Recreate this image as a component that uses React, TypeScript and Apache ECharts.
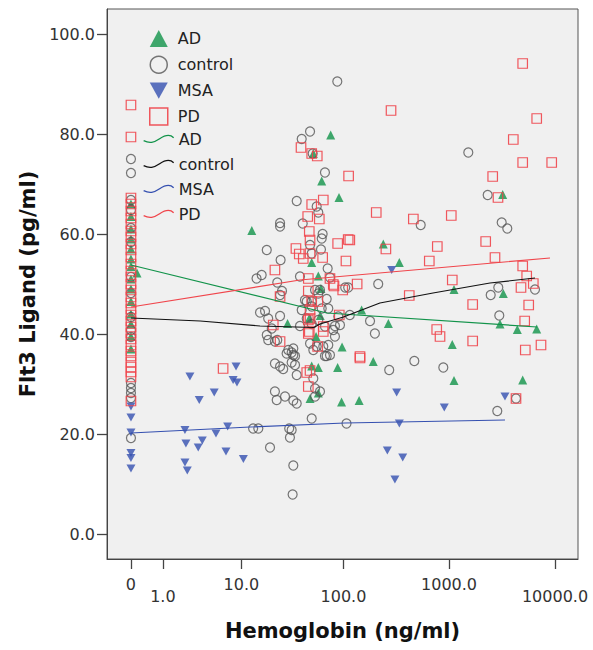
import React, { useEffect, useRef } from 'react';
import * as echarts from 'echarts';

// ---- axis ticks ----
const xTickValues = [0, 1, 10, 100, 1000, 10000];
const xTickLabels = ['0', '1.0', '10.0', '100.0', '1000.0', '10000.0'];
const yTickValues = [0, 20, 40, 60, 80, 100];
const X_MIN = -0.226; // log10(hb+1) units
const X_MAX = 4.217;
const Y_MIN = -5;
const Y_MAX = 105;

// ---- data: [hemoglobin ng/ml, Flt3 ligand pg/ml] ----
const adData = [
  [0, 66], [0, 63.5], [0, 61], [0, 59], [0, 57], [0, 55], [0, 53.5], [0, 51], [0, 49], [0, 46.5], [0, 44], [0, 42], [0, 39.5], [0, 37],
  [0.14, 52.2], [12.8, 60.7], [29, 42.1], [49.7, 54.3], [57.5, 51.6], [61, 49.1], [47, 43.1], [60, 43.7], [54.7, 39.5],
  [97, 37.4], [96, 26.4], [141, 26.7], [149, 44.8], [239, 58], [267, 42.1], [192, 34.5], [75.6, 79.8], [51.5, 76.1],
  [62, 70.6], [90.7, 67.3], [339, 54.3], [1114, 48.9], [3252, 48.1], [3027, 42], [4408, 40.9], [6720, 41], [1073, 37.9],
  [88, 33.3], [49.7, 33.6], [57.5, 33.3], [1114, 30.7], [4957, 30.8], [57.5, 28.2], [47.9, 27.1], [3210, 67.9],
];

const controlData = [
  [0, 75], [0, 72.2], [0, 66.8], [0, 64.8], [0, 61.2], [0, 58.4], [0, 51.4], [0, 48.2], [0, 43.4], [0, 40.8], [0, 39.4],
  [0, 30.2], [0, 29.2], [0, 28.2], [0, 27.2], [0, 19.2],
  [87.4, 90.5], [47.9, 80.5], [39.8, 79], [50.8, 76.1], [66.6, 72.3], [35.6, 66.6], [55.5, 65.5], [57.5, 64.3],
  [24.5, 62.2], [24.5, 61.5], [40.7, 62.1], [63.3, 60], [62, 59.1], [47.9, 57.8], [18.1, 56.8], [24.8, 54.8],
  [49.7, 56.1], [61, 56.9], [14.3, 51.1], [16.1, 51.8], [38.3, 51.5], [23, 50.3], [70.7, 53.1], [74.4, 51.3],
  [111, 49.3], [104, 49.3], [214, 50], [24.5, 47.8], [25.6, 48.6], [53.5, 48.8], [57.5, 48.1], [59.7, 48.8],
  [44.5, 46.5], [49.7, 46.5], [69.2, 47], [71.7, 45.1], [42.8, 46.8], [39.8, 44.8], [49.7, 45.5], [62, 45.1],
  [15.5, 44.3], [17.4, 44.6], [24.5, 43.6], [18.7, 43.1], [44.5, 43.1], [49.7, 42], [57.5, 42.8], [89.3, 43.5],
  [92.7, 41.8], [115, 43.8], [179, 42.6], [199, 40.1], [18.7, 38.8], [21.8, 38.5], [23, 38.8], [20.3, 41.1],
  [18.1, 39.8], [38.3, 41.6], [66.6, 41.5], [80, 40.8], [83, 39.5], [83, 41.6], [29.5, 36.8], [33, 37.1],
  [28.4, 36.1], [33, 35.8], [47.9, 38.1], [51.5, 36.8], [71.7, 37.8], [74.4, 35.8], [66.6, 35.6], [55.5, 37.5],
  [64.2, 37.5], [21.8, 34.1], [24.5, 33.5], [26.3, 33], [31.8, 34.3], [34.3, 33.8], [35.6, 31.8], [31.8, 36.3],
  [34.3, 35.6], [51.5, 31.1], [53.5, 29.1], [69.2, 35.6], [21.8, 28.5], [22.7, 26.8], [27.4, 27.5], [33, 26.7],
  [35.6, 26.1], [53.5, 27.5], [59.7, 28.5], [49.7, 23.1], [107, 22.1], [30.1, 21.1], [31.8, 20.8], [30.6, 19.3],
  [13.2, 21.1], [14.9, 21.1], [19.5, 17.3], [33, 13.7], [32.5, 7.9], [272, 32.8], [470, 34.6], [883, 33.3],
  [2854, 24.6], [2473, 47.8], [2917, 49.3], [6476, 48.9], [2981, 43.7], [4286, 27.1], [1520, 76.3], [2316, 67.8],
  [3141, 62.3], [3547, 61.1], [540, 61.8],
];

const msaData = [
  [0, 25.5], [0, 23.3], [0, 20.3], [0, 16.2], [0, 15.2], [0, 13.1],
  [2.23, 20.8], [2.3, 18.1], [2.23, 14.3], [2.4, 12.7], [2.6, 31.5], [3.41, 26.8], [5.1, 28.3], [8.8, 33.5],
  [8.2, 30.8], [9.0, 30.3], [5.34, 20.1], [7.17, 21.5], [3.71, 18.7], [3.31, 17.3], [6.88, 16.5], [10.5, 15],
  [287, 52.8], [320, 28.3], [902, 25.3], [339, 22.1], [261, 16.7], [365, 15.3], [308, 10.9], [3374, 27.5],
];

const pdData = [
  [0, 85.8], [0, 79.4], [0, 67.2], [0, 66], [0, 64.6], [0, 63.2], [0, 62], [0, 60.6], [0, 59.4], [0, 58], [0, 56.8],
  [0, 55.4], [0, 54], [0, 52.6], [0, 51.4], [0, 50], [0, 48.8], [0, 47.4], [0, 46.2], [0, 45], [0, 43.8], [0, 42.6],
  [0, 41.4], [0, 40.2], [0, 39], [0, 37.8], [0, 36.6], [0, 35.6], [0, 34.4], [0, 33.4], [0, 32.4], [0, 31.4], [0, 26.6],
  [6.4, 33.1], [21.8, 52.8], [24.5, 47.5], [21, 41.8], [24.5, 38.5], [44.5, 32.3], [47.9, 32.7], [46.1, 29.5],
  [39.2, 77.3], [49.7, 76.1], [56.2, 75.6], [112, 71.6], [64.2, 66.8], [49.7, 65.9], [45.5, 63.5], [58.8, 63],
  [205, 64.3], [283, 84.7], [4957, 94.1], [6720, 83.1], [4042, 78.9], [4957, 74.3], [9309, 74.3], [2583, 71.5],
  [2898, 67.3], [1050, 63.7], [460, 63], [2218, 58.5], [775, 57.5], [88.1, 58.1], [111, 58.9], [115, 58.8],
  [47.1, 60.5], [47.9, 58.8], [35, 57.1], [37.7, 56], [41.2, 55.1], [63.3, 55.3], [105.7, 54.6], [253, 57],
  [2715, 55.3], [4957, 53.6], [5407, 51.6], [4777, 49.3], [6241, 50.1], [651, 54.6], [1073, 50.8], [421, 47.7],
  [1672, 45.9], [5648, 45.8], [5177, 42.6], [765, 40.9], [822, 39.5], [1672, 38.6], [5245, 36.8], [7378, 37.8],
  [143.7, 35.5], [143.7, 35.2], [4286, 27.1], [135, 50], [98.4, 48.8], [80, 49.9], [74.4, 51.1], [46.1, 51.1],
  [81.3, 49.6], [46.1, 48.6], [57, 46.5], [49.7, 46.5], [47.9, 44.9], [47.9, 43.1], [91.3, 43.8], [46.1, 40.1],
  [64.2, 41.5], [64.2, 40.5], [56.7, 37.5], [47.9, 56.1], [46.1, 42.8], [47.1, 40.5],
];

// ---- fit lines ----
const adFit = [[0, 53.8], [69.6, 44.2], [6760, 41.4]];
const controlFit = [[0, 43.2], [3.5, 42.6], [15.5, 41.6], [52, 41.3], [59.7, 42.0], [100, 43.4], [222, 46.2], [706, 48.2], [2437, 50.2], [6476, 51.2]];
const msaFit = [[0, 20.2], [12.3, 21.4], [103, 22.2], [3374, 22.8]];
const pdFit = [[0, 45.4], [38.3, 50.8], [8970, 55.2]];

const C_AD = '#12934a';
const C_CTRL = '#555555';
const C_MSA = '#3550b0';
const C_PD = '#f0454b';
const C_FIT_CTRL = '#111111';
const FONT = 'DejaVu Sans';
const WAVE = 'path://M0,7 C6,10 10,9 16,5 C22,1 27,1 30,4';
const DOWN_TRI = 'path://M0,0 L10,0 L5,9 Z';

const tx = (v: number) => Math.log10(v + 1);
const toPts = (arr: number[][]) => arr.map(([h, f]) => [tx(h), f]);
const labelFor = (val: number) => {
  const i = xTickValues.findIndex((v) => Math.abs(tx(v) - val) < 1e-9);
  return i >= 0 ? xTickLabels[i] : '';
};

export default function App() {
  const ref = useRef<HTMLDivElement>(null);
  useEffect(() => {
    document.body.style.margin = '0';
    if (!ref.current) return;
    const chart = echarts.init(ref.current, undefined, { renderer: 'svg' });
    const labelStyle = { fontSize: 16, color: '#333', fontFamily: FONT };
    const lineSeries = (name: string, data: number[][], color: string) => ({
      name,
      type: 'line',
      data: toPts(data),
      showSymbol: false,
      symbol: 'none',
      lineStyle: { color, width: 1.2 },
      itemStyle: { color },
      z: 3,
    });
    chart.setOption({
      animation: false,
      textStyle: { fontFamily: FONT },
      grid: { left: 107, right: 15, top: 9, bottom: 91, show: true, backgroundColor: '#f0f0f0', borderColor: '#555', borderWidth: 1 },
      xAxis: [
        {
          type: 'value', min: X_MIN, max: X_MAX, position: 'bottom',
          axisLine: { show: true, onZero: false, lineStyle: { color: '#444' } },
          axisTick: { show: true, length: 10, customValues: xTickValues.map(tx), lineStyle: { color: '#444', width: 1.3 } },
          axisLabel: { customValues: [0, 2, 4].map((i) => tx(xTickValues[i])), formatter: labelFor, margin: 17, ...labelStyle },
          splitLine: { show: false },
          name: 'Hemoglobin (ng/ml)', nameLocation: 'middle', nameGap: 61,
          nameTextStyle: { fontSize: 21, fontWeight: 'bold', color: '#111', fontFamily: FONT },
        },
        {
          type: 'value', min: X_MIN, max: X_MAX, position: 'bottom',
          axisLine: { show: false, onZero: false },
          axisTick: { show: false },
          axisLabel: { customValues: [1, 3, 5].map((i) => tx(xTickValues[i])), formatter: labelFor, margin: 29, ...labelStyle },
          splitLine: { show: false },
        },
      ],
      yAxis: {
        type: 'value', min: Y_MIN, max: Y_MAX,
        axisLine: { show: true, onZero: false, lineStyle: { color: '#444' } },
        axisTick: { show: true, length: 10, customValues: yTickValues, lineStyle: { color: '#444', width: 1.3 } },
        axisLabel: { customValues: yTickValues, formatter: (v: number) => v.toFixed(1), margin: 12, ...labelStyle },
        splitLine: { show: false },
        name: 'Flt3 Ligand (pg/ml)', nameLocation: 'middle', nameGap: 64,
        nameTextStyle: { fontSize: 21, fontWeight: 'bold', color: '#111', fontFamily: FONT },
      },
      legend: [
        {
          orient: 'vertical', left: 144, top: 25, itemWidth: 18, itemHeight: 17, itemGap: 8.5, selectedMode: false,
          textStyle: { fontSize: 16, color: '#222', fontFamily: FONT, padding: [0, 0, 0, 5] },
          data: [
            { name: 'AD' },
            { name: 'control', itemStyle: { borderWidth: 1.5 } },
            { name: 'MSA' },
            { name: 'PD', itemStyle: { borderWidth: 1.5 } },
          ],
        },
        {
          orient: 'vertical', left: 138, top: 126, itemWidth: 30, itemHeight: 8, itemGap: 9, selectedMode: false,
          icon: WAVE,
          formatter: (n: string) => n.replace(' fit', ''),
          textStyle: { fontSize: 16, color: '#222', fontFamily: FONT },
          data: [
            { name: 'AD fit', itemStyle: { color: 'rgba(0,0,0,0)', borderColor: C_AD, borderWidth: 1.3 } },
            { name: 'control fit', itemStyle: { color: 'rgba(0,0,0,0)', borderColor: C_FIT_CTRL, borderWidth: 1.3 } },
            { name: 'MSA fit', itemStyle: { color: 'rgba(0,0,0,0)', borderColor: C_MSA, borderWidth: 1.3 } },
            { name: 'PD fit', itemStyle: { color: 'rgba(0,0,0,0)', borderColor: C_PD, borderWidth: 1.3 } },
          ],
        },
      ],
      series: [
        { name: 'AD', type: 'scatter', data: toPts(adData), symbol: 'triangle', symbolSize: 9, itemStyle: { color: C_AD } },
        { name: 'control', type: 'scatter', data: toPts(controlData), symbol: 'circle', symbolSize: 9,
          itemStyle: { color: 'rgba(0,0,0,0)', borderColor: C_CTRL, borderWidth: 1.2 } },
        { name: 'MSA', type: 'scatter', data: toPts(msaData), symbol: DOWN_TRI, symbolSize: [9, 8], itemStyle: { color: C_MSA } },
        { name: 'PD', type: 'scatter', data: toPts(pdData), symbol: 'rect', symbolSize: 9.5,
          itemStyle: { color: 'rgba(0,0,0,0)', borderColor: C_PD, borderWidth: 1.2, opacity: 0.9 } },
        lineSeries('AD fit', adFit, C_AD),
        lineSeries('control fit', controlFit, C_FIT_CTRL),
        lineSeries('MSA fit', msaFit, C_MSA),
        lineSeries('PD fit', pdFit, C_PD),
      ],
    });
    return () => chart.dispose();
  }, []);
  return <div ref={ref} style={{ width: 593, height: 650 }} />;
}
